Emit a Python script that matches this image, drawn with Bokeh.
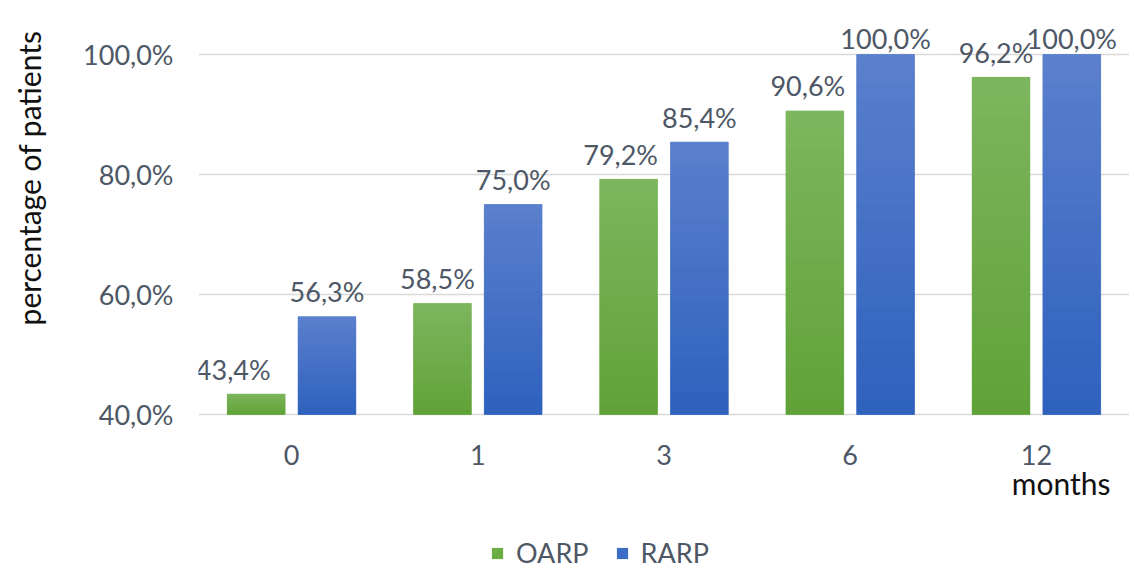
from math import pi
from bokeh.plotting import figure
from bokeh.models import (FactorRange, Range1d, FixedTicker, Legend, LegendItem,
                          Title, Label, ColumnDataSource)
from bokeh.transform import dodge
from bokeh.core.properties import value
from bokeh.embed import file_html
from bokeh.resources import INLINE

# ---- data ----
months = ["0", "1", "3", "6", "12"]
oarp = [43.4, 58.5, 79.2, 90.6, 96.2]
rarp = [56.3, 75.0, 85.4, 100.0, 100.0]
series_names = ["OARP", "RARP"]
y_ticks = [40, 60, 80, 100]
y_tick_labels = ["40,0%", "60,0%", "80,0%", "100,0%"]
x_axis_title = "months"
y_axis_title = "percentage of patients"

# ---- styles ----
FONT = "Lato"
FS = "27px"
TITLE_FS = "30px"
TXT = "#4d5766"
GREEN = "#6cac42"
BLUE = "#3e6dc6"
GREEN_TOP, GREEN_BOT = (0x7d, 0xb6, 0x5f), (0x60, 0xa2, 0x37)
BLUE_TOP, BLUE_BOT = (0x5b, 0x80, 0xcd), (0x2e, 0x61, 0xbd)
green_label_dx = [-23, -5, -8, -7, -5]
BASE = 40
NSEG = 24


def fmt(v):
    return f"{v:.1f}%".replace(".", ",")


def dy(v):
    return -16 if v >= 99.5 else -25


def mix(c_bot, c_top, t):
    return "#%02x%02x%02x" % tuple(round(b + (a - b) * t) for a, b in zip(c_top, c_bot))


src = ColumnDataSource(dict(
    month=months, oarp=oarp, rarp=rarp,
    oarp_lbl=[fmt(v) for v in oarp], rarp_lbl=[fmt(v) for v in rarp],
    oarp_dy=[dy(v) for v in oarp], rarp_dy=[dy(v) for v in rarp],
    oarp_dx=green_label_dx, rarp_dx=[0] * len(rarp),
))

# the frame spans the whole height; the x axis sits at y=40 inside it
p = figure(x_range=FactorRange(*months), y_range=Range1d(109 - 571 / 6, 109),
           frame_width=931, frame_height=571, output_backend="svg",
           toolbar_location=None,
           min_border_left=195, min_border_right=0, min_border_top=0,
           min_border_bottom=0, background_fill_color="white",
           border_fill_color="white")
p.outline_line_color = None

r1 = p.vbar(x=dodge("month", -0.19, range=p.x_range), top="oarp", bottom=BASE,
            width=0.31, source=src, fill_color=GREEN, line_color=None)
r2 = p.vbar(x=dodge("month", 0.19, range=p.x_range), top="rarp", bottom=BASE,
            width=0.31, source=src, fill_color=BLUE, line_color=None)


# vertical gradient shading over each bar (built from the same values)
def gradient_source(vals, c_bot, c_top):
    d = dict(month=[], top=[], bottom=[], color=[])
    for m, v in zip(months, vals):
        for k in range(NSEG):
            d["month"].append(m)
            d["bottom"].append(BASE + (v - BASE) * k / NSEG)
            d["top"].append(BASE + (v - BASE) * (k + 1) / NSEG)
            d["color"].append(mix(c_bot, c_top, (k + 0.5) / NSEG))
    return ColumnDataSource(d)


for vals, off, cb, ct in ((oarp, -0.19, GREEN_BOT, GREEN_TOP),
                          (rarp, 0.19, BLUE_BOT, BLUE_TOP)):
    p.vbar(x=dodge("month", off, range=p.x_range), top="top", bottom="bottom",
           width=0.31, source=gradient_source(vals, cb, ct), fill_color="color",
           line_color="color", line_width=0.6)

for key, off in (("oarp", -0.19), ("rarp", 0.19)):
    p.text(x=dodge("month", off, range=p.x_range), y=key, text=key + "_lbl",
           x_offset=key + "_dx", y_offset=key + "_dy", source=src,
           text_align="center", text_baseline="middle",
           text_font=value(FONT), text_font_size=FS, text_color=TXT)

# axes
p.yaxis.ticker = FixedTicker(ticks=y_ticks)
p.yaxis.major_label_overrides = {t: l for t, l in zip(y_ticks, y_tick_labels)}
for ax in (p.xaxis, p.yaxis):
    ax.axis_line_color = None
    ax.major_tick_line_color = None
    ax.minor_tick_line_color = None
    ax.major_label_text_font = FONT
    ax.major_label_text_font_size = FS
    ax.major_label_text_color = TXT
p.xaxis.fixed_location = BASE
p.yaxis.major_label_standoff = 19
p.xaxis.major_label_standoff = 24
# invisible spacer label widens the y axis panel
p.yaxis.axis_label = " "
p.yaxis.axis_label_text_font_size = "2px"
p.yaxis.axis_label_standoff = 20
p.xgrid.grid_line_color = None
p.ygrid.ticker = FixedTicker(ticks=y_ticks)
p.ygrid.grid_line_color = "#d9d9d9"
p.ygrid.grid_line_width = 1.5

# y axis title in the left panel
p.add_layout(Title(text=y_axis_title, align="right", offset=30, standoff=16,
                   text_font=FONT, text_font_size=TITLE_FS, text_font_style="normal",
                   text_color="#111111"), "left")
# x axis title (screen units relative to the frame)
p.add_layout(Label(x=912, y=89, x_units="screen", y_units="screen",
                   text=x_axis_title, text_align="right", text_baseline="middle",
                   text_font=FONT, text_font_size=TITLE_FS, text_color="#111111"))

legend = Legend(items=[LegendItem(label=series_names[0], renderers=[r1]),
                       LegendItem(label=series_names[1], renderers=[r2])],
                orientation="horizontal", location=(292, 2),
                padding=0, margin=0, spacing=26, label_standoff=12,
                glyph_width=14, glyph_height=14,
                label_text_font=FONT, label_text_font_size=FS,
                label_text_color=TXT, border_line_color=None,
                background_fill_alpha=0)
p.add_layout(legend, "center")

open("out.html", "w").write(file_html(p, INLINE))
